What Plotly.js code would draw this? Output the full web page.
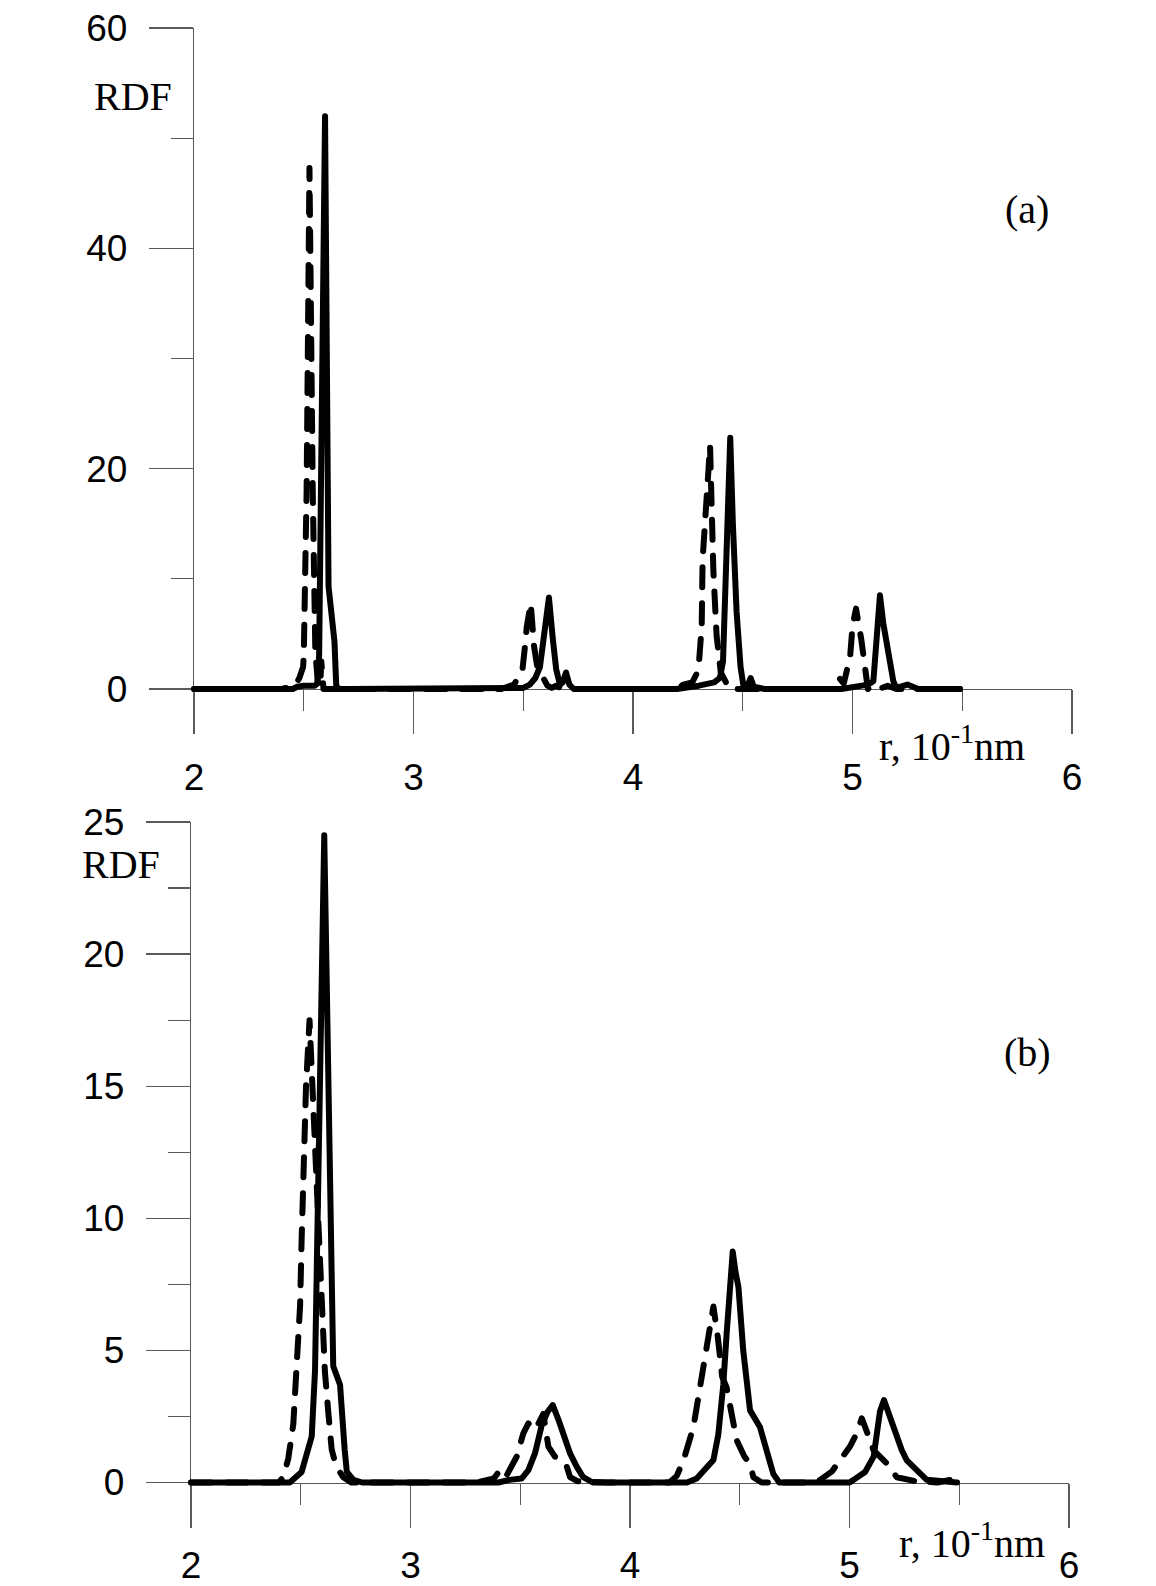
<!DOCTYPE html>
<html><head><meta charset="utf-8">
<script src="https://cdn.plot.ly/plotly-3.0.1.min.js"></script>
<style>html,body{margin:0;padding:0;background:#fff}#chart{width:1156px;height:1586px}</style>
</head><body><div id="chart"></div>
<script>
// ---------- Panel (a) ----------
const aSolidX = [2.00, 2.45, 2.47, 2.50, 2.55, 2.562, 2.570, 2.597, 2.613, 2.640, 2.648, 2.66, 2.70,
  3.45, 3.50, 3.53, 3.555, 3.576, 3.595, 3.617, 3.635, 3.650, 3.667, 3.680, 3.695, 3.710, 3.73,
  4.20, 4.30, 4.37, 4.396, 4.410, 4.419, 4.430, 4.443, 4.455, 4.472, 4.490, 4.503, 4.520, 4.536, 4.55, 4.60,
  4.95, 5.00, 5.04, 5.07, 5.095, 5.110, 5.125, 5.140, 5.156, 5.186, 5.20, 5.25, 5.30, 5.49];
const aSolidY = [0, 0, 0.2, 0.3, 0.3, 0.5, 3, 52.0, 9.3, 4.3, 0.3, 0, 0,
  0, 0.1, 0.4, 1.0, 2.0, 5.0, 8.3, 4.5, 1.8, 0.4, 0.6, 1.5, 0.4, 0,
  0, 0.3, 0.6, 1.0, 2.5, 8, 16, 22.8, 15, 7, 2, 0.3, 0.2, 1.0, 0.2, 0,
  0, 0.2, 0.3, 0.4, 0.7, 4.1, 8.5, 6.0, 4.1, 0.7, 0.1, 0.4, 0, 0];

const aDashX = [2.00, 2.40, 2.46, 2.48, 2.497, 2.500, 2.513, 2.526, 2.541, 2.553, 2.565, 2.575, 2.580, 2.59, 2.70,
  3.40, 3.458, 3.496, 3.508, 3.516, 3.534, 3.549, 3.564, 3.591, 3.61, 3.63, 3.65, 3.68,
  4.20, 4.229, 4.27, 4.298, 4.313, 4.317, 4.351, 4.366, 4.381, 4.40, 4.419, 4.44,
  4.90, 4.94, 4.96, 4.989, 5.000, 5.016, 5.040, 5.057, 5.07, 5.09, 5.12, 5.16, 5.20, 5.49];
const aDashY = [0, 0, 0.3, 1.0, 2.0, 3, 17.9, 47.3, 17.9, 3.2, 0.5, 0.2, 2.5, 0, 0,
  0, 0.4, 1.7, 3.9, 5.65, 7.8, 3.9, 2.0, 1.0, 0.3, 0.1, 0.3, 0,
  0, 0.4, 0.6, 1.7, 5.7, 11.7, 22.1, 10.8, 4.8, 1.5, 0.7, 0,
  0, 1.0, 0.5, 2.9, 5.7, 7.3, 4.5, 2.0, 0, 0.3, 0, 0.3, 0, 0];

// ---------- Panel (b) ----------
const bSolidX = [2.00, 2.45, 2.504, 2.535, 2.550, 2.565, 2.607, 2.648, 2.679, 2.700, 2.710, 2.74, 2.78,
  3.40, 3.45, 3.506, 3.537, 3.567, 3.598, 3.624, 3.648, 3.673, 3.696, 3.727, 3.757, 3.787, 3.83,
  4.26, 4.304, 4.35, 4.38, 4.402, 4.425, 4.440, 4.456, 4.468, 4.480, 4.494, 4.516, 4.547, 4.592, 4.623, 4.653, 4.68,
  5.00, 5.017, 5.071, 5.110, 5.124, 5.139, 5.157, 5.184, 5.207, 5.238, 5.260, 5.290, 5.321, 5.352, 5.49];
const bSolidY = [0, 0, 0.4, 1.25, 1.74, 4.24, 24.5, 4.4, 3.7, 1.25, 0.4, 0.1, 0,
  0, 0.1, 0.15, 0.47, 1.1, 2.17, 2.67, 2.93, 2.4, 1.86, 1.1, 0.6, 0.2, 0,
  0, 0.15, 0.6, 0.85, 1.8, 3.7, 5.6, 7.5, 8.74, 8.0, 7.4, 4.99, 2.73, 2.1, 1.1, 0.32, 0,
  0, 0.09, 0.4, 0.98, 1.86, 2.7, 3.12, 2.49, 1.86, 1.23, 0.85, 0.6, 0.35, 0.1, 0];

const bDashX = [2.00, 2.40, 2.42, 2.443, 2.466, 2.481, 2.497, 2.504, 2.515, 2.524, 2.540, 2.557, 2.573, 2.585, 2.595, 2.610, 2.626, 2.641, 2.655, 2.670, 2.694, 2.73,
  3.30, 3.38, 3.415, 3.44, 3.484, 3.514, 3.537, 3.560, 3.575, 3.605, 3.628, 3.658, 3.680, 3.712, 3.727, 3.76, 3.90,
  4.18, 4.213, 4.244, 4.289, 4.319, 4.350, 4.380, 4.400, 4.420, 4.440, 4.463, 4.486, 4.520, 4.547, 4.562, 4.60,
  4.80, 4.866, 4.919, 4.972, 5.002, 5.033, 5.056, 5.080, 5.109, 5.139, 5.184, 5.215, 5.30, 5.40, 5.46, 5.484];
const bDashY = [0, 0, 0.2, 0.9, 2.2, 4.2, 6.7, 9.2, 12.5, 15.0, 17.5, 14.2, 10.9, 8.4, 5.9, 4.2, 2.6, 1.25, 0.8, 0.5, 0.2, 0,
  0, 0.15, 0.55, 0.3, 0.98, 1.86, 2.24, 2.0, 2.1, 2.6, 1.36, 0.98, 0.9, 0.6, 0.2, 0.05, 0,
  0, 0.25, 0.85, 2.1, 3.6, 5.4, 6.66, 5.5, 4.0, 3.6, 2.5, 1.6, 1.0, 0.7, 0.2, 0,
  0, 0.1, 0.41, 0.98, 1.36, 1.86, 2.43, 1.9, 1.23, 0.98, 0.6, 0.2, 0.05, 0, 0.1, 0.6];

const xTickVals = [2, 3, 4, 5, 6];
const aYTickVals = [0, 20, 40, 60];
const bYTickVals = [0, 5, 10, 15, 20, 25];

const W = 1156, H = 1586;
const px = v => v / W, py = v => 1 - v / H;

const LW = 6;
const solid = {color: '#000', width: LW};
const dashed = {color: '#000', width: LW, dash: '20px,16px'};

const traces = [
  {x: aDashX, y: aDashY, xaxis: 'x', yaxis: 'y', mode: 'lines', line: dashed, cliponaxis: false, hoverinfo: 'skip'},
  {x: aSolidX, y: aSolidY, xaxis: 'x', yaxis: 'y', mode: 'lines', line: solid, cliponaxis: false, hoverinfo: 'skip'},
  {x: bDashX, y: bDashY, xaxis: 'x2', yaxis: 'y2', mode: 'lines', line: dashed, cliponaxis: false, hoverinfo: 'skip'},
  {x: bSolidX, y: bSolidY, xaxis: 'x2', yaxis: 'y2', mode: 'lines', line: solid, cliponaxis: false, hoverinfo: 'skip'}
];

const AX = '#5a5a5a';
const tickFont = {family: 'Liberation Sans, Arial, sans-serif', size: 37, color: '#000'};
function xAxis(domain, anchor, standoff) {
  return {domain: domain, anchor: anchor, range: [2, 6], tickmode: 'array', tickvals: xTickVals,
    ticktext: xTickVals.map(String), ticks: 'outside', ticklen: 44, tickwidth: 1.3, tickcolor: AX,
    showline: true, linecolor: AX, linewidth: 1.3, showgrid: false, zeroline: false, layer: 'below traces',
    tickfont: tickFont, ticklabelstandoff: standoff,
    minor: {tickvals: [2.5, 3.5, 4.5, 5.5], ticks: 'outside', ticklen: 21, tickwidth: 1.3, tickcolor: AX, showgrid: false}};
}
function yAxis(domain, anchor, range, vals, minorVals) {
  return {domain: domain, anchor: anchor, range: range, tickmode: 'array', tickvals: vals,
    ticktext: vals.map(String), ticks: 'outside', ticklen: 44, tickwidth: 1.3, tickcolor: AX,
    showline: true, linecolor: AX, linewidth: 1.3, showgrid: false, zeroline: false, layer: 'below traces',
    tickfont: tickFont, ticklabelstandoff: 14,
    minor: {tickvals: minorVals, ticks: 'outside', ticklen: 22, tickwidth: 1.3, tickcolor: AX, showgrid: false}};
}

const serif = {family: 'Liberation Serif, Times New Roman, serif', size: 40, color: '#000'};
function note(text, x, y) {
  return {text: text, x: px(x), y: py(y), xref: 'paper', yref: 'paper', xanchor: 'center', yanchor: 'middle',
    showarrow: false, font: serif};
}
const layout = {
  width: W, height: H, margin: {l: 0, r: 0, t: 0, b: 0},
  paper_bgcolor: '#fff', plot_bgcolor: 'rgba(0,0,0,0)', showlegend: false,
  xaxis: xAxis([px(194), px(1072)], 'y', 11),
  yaxis: yAxis([py(689), py(28)], 'x', [0, 60], aYTickVals, [10, 30, 50]),
  xaxis2: xAxis([px(191), px(1069)], 'y2', 6),
  yaxis2: yAxis([py(1482.5), py(822)], 'x2', [0, 25], bYTickVals, [2.5, 7.5, 12.5, 17.5, 22.5]),
  annotations: [
    note('RDF', 133, 96),
    note('RDF', 121, 864),
    note('r, 10<sup>-1</sup>nm', 952, 743),
    note('r, 10<sup>-1</sup>nm', 972, 1540),
    note('(a)', 1027, 210),
    note('(b)', 1027, 1052)
  ]
};

Plotly.newPlot('chart', traces, layout, {staticPlot: true}).then(function () {
  document.querySelectorAll('.cartesianlayer [clip-path]').forEach(function (el) { el.removeAttribute('clip-path'); });
  document.querySelectorAll('.scatterlayer path.js-line').forEach(function (p) {
    p.style.strokeLinecap = 'round';
    p.style.strokeLinejoin = 'round';
  });
});
</script>
</body></html>
